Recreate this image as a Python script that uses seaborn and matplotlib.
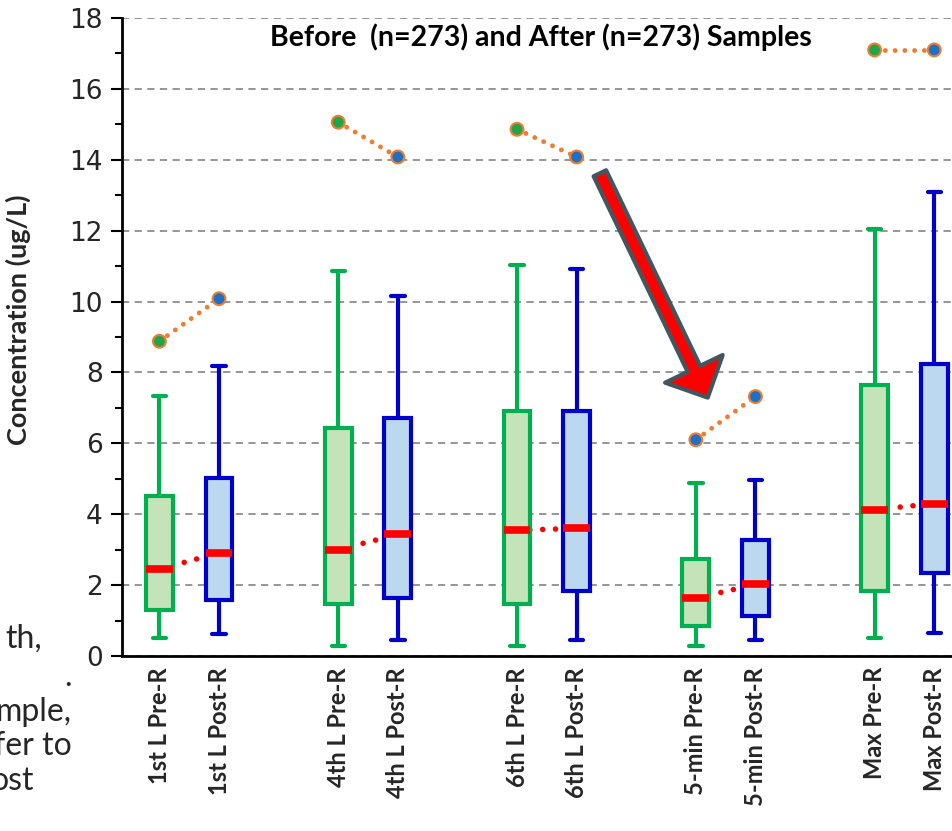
import numpy as np
import pandas as pd
import matplotlib.pyplot as plt
import seaborn as sns

labels = ["1st L Pre-R", "1st L Post-R", "4th L Pre-R", "4th L Post-R",
          "6th L Pre-R", "6th L Post-R", "5-min Pre-R", "5-min Post-R",
          "Max Pre-R", "Max Post-R"]
pre_pos = [0, 3, 6, 9, 12]
post_pos = [1, 4, 7, 10, 13]

# box stats (whisker low, Q1, median, Q3, whisker high)
pre_low = [0.5, 0.28, 0.28, 0.29, 0.5]
pre_q1 = [1.3, 1.46, 1.46, 0.85, 1.84]
pre_med = [2.45, 3.0, 3.55, 1.63, 4.13]
pre_q3 = [4.52, 6.43, 6.92, 2.74, 7.64]
pre_high = [7.33, 10.85, 11.02, 4.88, 12.06]
pre_max = [8.88, 15.06, 14.86, 6.1, 17.1]
pre_max_fill = ["green", "green", "green", "blue", "green"]

post_low = [0.62, 0.45, 0.45, 0.45, 0.65]
post_q1 = [1.58, 1.63, 1.84, 1.13, 2.35]
post_med = [2.91, 3.43, 3.6, 2.02, 4.3]
post_q3 = [5.03, 6.72, 6.92, 3.27, 8.24]
post_high = [8.19, 10.15, 10.93, 4.96, 13.1]
post_max = [10.08, 14.08, 14.08, 7.32, 17.1]
post_max_fill = ["blue", "blue", "blue", "blue", "blue"]

title = "Before  (n=273) and After (n=273) Samples"
side_text = ["th,", ".", "mple,", "fer to", "ost"]

green_edge = "#00B050"
green_fill = "#C5E3B8"
blue_edge = "#0000CC"
blue_fill = "#BCD8EE"
orange = "#ED7D31"


def long_table(pos, *cols):
    rows = []
    for i, p in enumerate(pos):
        for c in cols:
            rows.append({"pos": p, "value": c[i]})
    return pd.DataFrame(rows)


pre_df = long_table(pre_pos, pre_low, pre_q1, pre_med, pre_q3, pre_high)
post_df = long_table(post_pos, post_low, post_q1, post_med, post_q3, post_high)
max_df = pd.DataFrame({"pos": pre_pos + post_pos,
                       "value": pre_max + post_max,
                       "fill": pre_max_fill + post_max_fill})

sns.set_style("white")
plt.rcParams["font.family"] = ["Lato", "DejaVu Sans"]

fig = plt.figure(figsize=(9.53, 8.31), dpi=100)
ax = fig.add_axes([0.128, 0.2106, 0.872, 0.7677])
ax.set_axisbelow(True)

med_kw = dict(color="red", linewidth=5.5, solid_capstyle="butt")
sns.boxplot(data=pre_df, x="pos", y="value", native_scale=True, width=0.15,
            whis=(0, 100), color=green_fill, linecolor=green_edge, linewidth=3,
            saturation=1, showfliers=False, medianprops=med_kw, ax=ax)
sns.boxplot(data=post_df, x="pos", y="value", native_scale=True, width=0.15,
            whis=(0, 100), color=blue_fill, linecolor=blue_edge, linewidth=3,
            saturation=1, showfliers=False, medianprops=med_kw, ax=ax)

# dotted links between the pairs
for i in range(len(pre_pos)):
    ax.plot([pre_pos[i], post_pos[i]], [pre_med[i], post_med[i]], color="red",
            lw=4, dashes=(0.01, 2.3), dash_capstyle="round", zorder=1.5)
    ax.plot([pre_pos[i], post_pos[i]], [pre_max[i], post_max[i]], color=orange,
            lw=3.5, dashes=(0.01, 2.0), dash_capstyle="round", zorder=2.5)

sns.scatterplot(data=max_df, x="pos", y="value", hue="fill",
                palette={"green": "#1FA64A", "blue": "#1F6FC5"}, s=85,
                edgecolor=orange, linewidth=1.5, legend=False, zorder=4, ax=ax)

ax.annotate("", xy=(9.2, 7.29), xytext=(7.39, 13.62),
            arrowprops=dict(arrowstyle="simple,head_length=2.3,head_width=4.6,tail_width=1.0",
                            fc="red", ec="#41575F", lw=3, shrinkA=0, shrinkB=0,
                            mutation_scale=10), zorder=6)

ax.text(6.4, 17.46, title, ha="center", va="center", fontsize=20.5,
        fontweight="bold", color="black")

ax.set_xlim(-0.628, 13.315)
ax.set_ylim(0, 18)
ax.set_yticks(range(0, 19, 2))
ax.set_yticks(range(1, 18, 2), minor=True)
ax.set_xticks(sorted(pre_pos + post_pos))
ax.set_xticklabels(labels, rotation=90, fontsize=17, fontweight="bold")
ax.grid(axis="y", which="major", linestyle=(0, (4, 3)), color="#8E8E8E", lw=1.3)
ax.grid(axis="x", visible=False)

for s in ["top", "right"]:
    ax.spines[s].set_visible(False)
for s in ["left", "bottom"]:
    ax.spines[s].set_color("black")
    ax.spines[s].set_linewidth(2)

ax.tick_params(axis="y", which="major", length=8, width=1.5, direction="out",
               labelsize=19, pad=6, left=True, color="black")
ax.tick_params(axis="y", which="minor", length=5, width=1.5, direction="out",
               left=True, color="black")
ax.tick_params(axis="x", length=0, pad=8)
for lbl in ax.get_yticklabels():
    lbl.set_fontfamily("DejaVu Sans")

ax.set_xlabel("")
ax.set_ylabel("Concentration (ug/L)", fontsize=19.5, fontweight="bold")
ax.yaxis.set_label_coords(-0.11, 0.527)

# cut-off words of the neighbouring paragraph
ys = [648, 686, 721, 755, 790]
xs = [42, 72, 72, 72, 34]
for t, x, y in zip(side_text, xs, ys):
    fig.text(x / 953, 1 - y / 831, t, ha="right", va="baseline", fontsize=23)

fig.savefig("out.png", dpi=100)
